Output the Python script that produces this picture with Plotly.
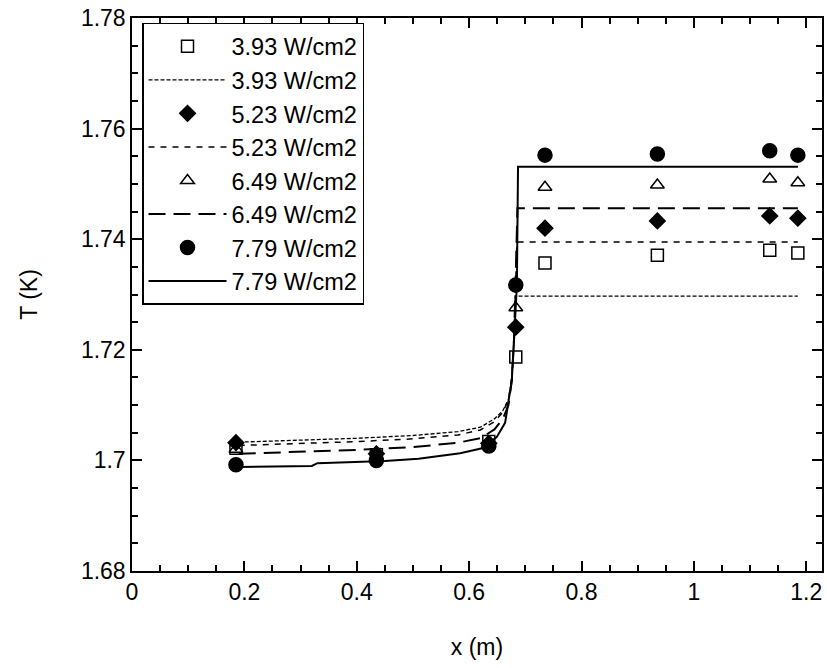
import plotly.graph_objects as go

# ---------------- data ----------------
labels = ["3.93 W/cm2", "5.23 W/cm2", "6.49 W/cm2", "7.79 W/cm2"]

# measured points
x_meas = [0.185, 0.435, 0.635, 0.683, 0.735, 0.935, 1.135, 1.185]
T_meas_393 = [1.7022, 1.7010, 1.7034, 1.7187, 1.7357, 1.7371, 1.7380, 1.7375]
T_meas_523 = [1.7032, 1.7012, 1.7031, 1.7241, 1.7420, 1.7433, 1.7442, 1.7438]
T_meas_649 = [1.7020, 1.7006, 1.7028, 1.7276, 1.7494, 1.7498, 1.7509, 1.7502]
T_meas_779 = [1.6992, 1.7000, 1.7026, 1.7317, 1.7552, 1.7554, 1.7560, 1.7552]

# model curves
x_mod_393 = [0.19, 0.30, 0.40, 0.50, 0.58, 0.62, 0.645, 0.66, 0.67, 0.675, 0.679, 0.682, 1.185]
T_mod_393 = [1.7033, 1.7036, 1.7040, 1.7045, 1.7052, 1.7060, 1.7075, 1.7090, 1.7110, 1.7140, 1.7200, 1.7297, 1.7297]

x_mod_523 = [0.19, 0.30, 0.40, 0.50, 0.58, 0.62, 0.645, 0.66, 0.67, 0.676, 0.680, 0.685, 1.185]
T_mod_523 = [1.7027, 1.7030, 1.7034, 1.7039, 1.7046, 1.7055, 1.7070, 1.7087, 1.7110, 1.7150, 1.7220, 1.7395, 1.7395]

x_mod_649 = [0.19, 0.30, 0.40, 0.50, 0.58, 0.62, 0.645, 0.66, 0.67, 0.676, 0.680, 0.686, 1.185]
T_mod_649 = [1.7012, 1.7015, 1.7019, 1.7024, 1.7032, 1.7040, 1.7056, 1.7075, 1.7100, 1.7145, 1.7220, 1.7456, 1.7456]

x_mod_779 = [0.19, 0.32, 0.33, 0.45, 0.51, 0.584, 0.623, 0.649, 0.664, 0.669, 0.676, 0.685, 0.687, 1.185]
T_mod_779 = [1.6988, 1.6990, 1.6995, 1.6999, 1.7003, 1.7013, 1.7022, 1.7042, 1.7068, 1.7097, 1.7145, 1.7317, 1.7531, 1.7531]

x_ticks = [0, 0.2, 0.4, 0.6, 0.8, 1.0, 1.2]
x_ticktext = ["0", "0.2", "0.4", "0.6", "0.8", "1", "1.2"]
y_ticks = [1.68, 1.70, 1.72, 1.74, 1.76, 1.78]
y_ticktext = ["1.68", "1.7", "1.72", "1.74", "1.76", "1.78"]

# ---------------- figure ----------------
FONT = "Liberation Sans, Arial, sans-serif"
fig = go.Figure()

meas = [T_meas_393, T_meas_523, T_meas_649, T_meas_779]
msym = ["square-open", "diamond", "triangle-up-open", "circle"]
msize = [12, 12, 12, 14]
mods = [(x_mod_393, T_mod_393), (x_mod_523, T_mod_523), (x_mod_649, T_mod_649), (x_mod_779, T_mod_779)]
dashes = ["4px,2px", "6px,6px", "17px,8px", "solid"]
widths = [1.3, 1.5, 2, 2]

for i in range(4):
    fig.add_trace(go.Scatter(
        x=x_meas, y=meas[i], mode="markers", name=labels[i],
        marker=dict(symbol=msym[i], size=msize[i], color="black",
                    line=dict(color="black", width=1.5)),
    ))
    fig.add_trace(go.Scatter(
        x=mods[i][0], y=mods[i][1], mode="lines", name=labels[i],
        line=dict(color="black", width=widths[i], dash=dashes[i]),
    ))

fig.update_layout(
    width=827, height=668,
    margin=dict(l=132, r=5, t=18, b=97, autoexpand=False),
    paper_bgcolor="white", plot_bgcolor="white",
    font=dict(family=FONT, size=23, color="black"),
    showlegend=True,
    legend=dict(
        x=0.0145, y=0.991, xanchor="left", yanchor="top",
        bgcolor="white", bordercolor="black", borderwidth=1.5,
        font=dict(family=FONT, size=23.5, color="black"),
        itemwidth=78, tracegroupgap=0, traceorder="normal",
    ),
    xaxis=dict(
        range=[0, 1.228], tickvals=x_ticks, ticktext=x_ticktext, automargin=False,
        showgrid=False, zeroline=False, showline=True, linecolor="black", linewidth=1.5,
        mirror="ticks", ticks="inside", ticklen=10, tickwidth=1.5, tickcolor="black",
        minor=dict(dtick=0.05, ticks="inside", ticklen=6, tickwidth=1.5, tickcolor="black"),
        title=dict(text="x (m)", font=dict(size=23), standoff=35),
        ticklabeloverflow="allow",
    ),
    yaxis=dict(
        range=[1.68, 1.78], tickvals=y_ticks, ticktext=y_ticktext, automargin=False,
        showgrid=False, zeroline=False, showline=True, linecolor="black", linewidth=1.5,
        mirror="ticks", ticks="inside", ticklen=10, tickwidth=1.5, tickcolor="black",
        minor=dict(dtick=0.005, ticks="inside", ticklen=6, tickwidth=1.5, tickcolor="black"),
        title=dict(text="T (K)", font=dict(size=23), standoff=37),
        ticklabeloverflow="allow",
    ),
)

fig.write_html(
    "out.html",
    config={"displayModeBar": False},
    post_script="document.body.style.margin='0px';document.documentElement.style.overflow='hidden';",
)
